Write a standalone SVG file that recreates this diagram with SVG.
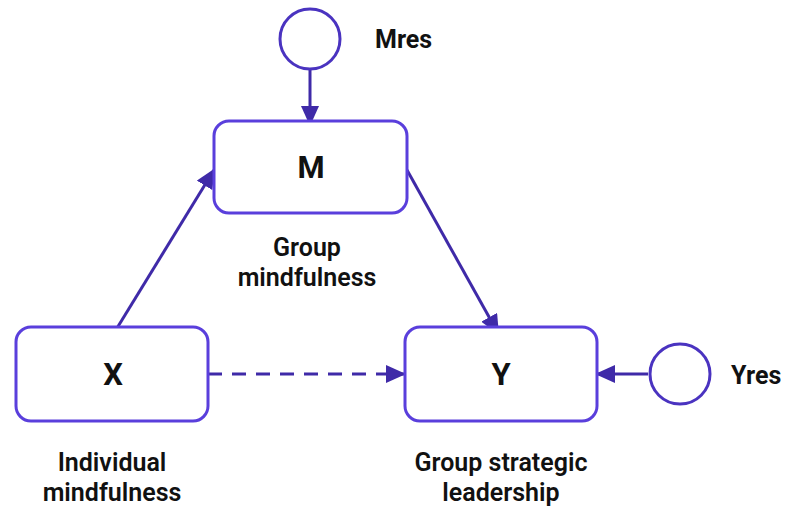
<svg xmlns="http://www.w3.org/2000/svg" width="786" height="507" viewBox="0 0 786 507">
<style>
.box{fill:#fff;stroke:#5a3fdc;stroke-width:3}
.circ{fill:#fff;stroke:#4a33c0;stroke-width:3}
.edge{stroke:#3f2aa8;stroke-width:3;fill:none}
.big{font-family:Roboto,"Liberation Sans",sans-serif;font-weight:bold;font-size:31px;fill:#111;text-anchor:middle}
.lbl{font-family:Roboto,"Liberation Sans",sans-serif;font-weight:600;font-size:25px;fill:#111;text-anchor:middle}
.res{font-family:Roboto,"Liberation Sans",sans-serif;font-weight:bold;font-size:25px;fill:#111}
</style>
<defs>
<marker id="arr" viewBox="0 0 20 18" refX="18" refY="9" markerWidth="20" markerHeight="18" markerUnits="userSpaceOnUse" orient="auto">
<path d="M0,0 L20,9 L0,18 z" fill="#3f2aa8"/>
</marker>
</defs>
<rect width="786" height="507" fill="#fff"/>
<g id="connectors">
<line class="edge" x1="310" y1="69" x2="310" y2="124" marker-end="url(#arr)"/>
<line class="edge" x1="114" y1="333" x2="214" y2="170" marker-end="url(#arr)"/>
<line class="edge" x1="407" y1="170" x2="498" y2="333" marker-end="url(#arr)"/>
<line class="edge" x1="208" y1="374" x2="404" y2="374" stroke-dasharray="14,10" marker-end="url(#arr)"/>
<line class="edge" x1="648" y1="374" x2="597" y2="374" marker-end="url(#arr)"/>
</g>
<g id="Mres"><circle class="circ" cx="310" cy="39" r="30"/><text class="res" x="375" y="48">Mres</text></g>
<g id="M"><rect class="box" x="214" y="121" width="193" height="92" rx="15"/><text class="big" x="311" y="178">M</text>
<text class="lbl" x="307" y="256">Group</text><text class="lbl" x="307" y="286">mindfulness</text></g>
<g id="X"><rect class="box" x="16" y="327" width="192" height="94" rx="15"/><text class="big" x="113" y="385">X</text>
<text class="lbl" x="112" y="471">Individual</text><text class="lbl" x="112" y="501">mindfulness</text></g>
<g id="Y"><rect class="box" x="405" y="327" width="192" height="94" rx="15"/><text class="big" x="501" y="385">Y</text>
<text class="lbl" x="501" y="471">Group strategic</text><text class="lbl" x="501" y="501">leadership</text></g>
<g id="Yres"><circle class="circ" cx="680" cy="374" r="30"/><text class="res" x="731" y="384">Yres</text></g>
</svg>
